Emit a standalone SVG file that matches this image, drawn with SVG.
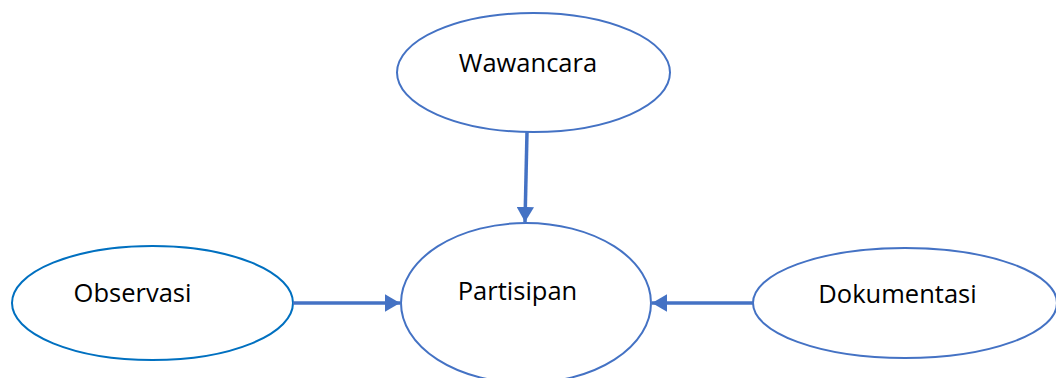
<svg xmlns="http://www.w3.org/2000/svg" width="1056" height="378" viewBox="0 0 1056 378">
<style>
.node ellipse{fill:#fff;stroke:#4472C4;stroke-width:2}
.node text{font-family:"Open Sans","Liberation Sans",Arial,sans-serif;font-size:25.5px;fill:#000;text-anchor:middle}
.conn line{stroke:#4472C4;stroke-width:3.5}
</style>
<defs>
<marker id="ah" markerWidth="5" markerHeight="5" refX="4.3" refY="2.5" orient="auto" markerUnits="strokeWidth">
<path d="M0,0 L4.3,2.5 L0,5 Z" fill="#4472C4"/>
</marker>
</defs>
<rect width="1056" height="378" fill="#fff"/>
<g id="n-wawancara" class="node">
<ellipse cx="533.5" cy="72.5" rx="136.5" ry="59.5"/>
<text x="528" y="72">Wawancara</text>
</g>
<g id="n-observasi" class="node">
<ellipse cx="152.5" cy="303" rx="140.5" ry="57" style="stroke:#0070C0"/>
<text x="132.5" y="302">Observasi</text>
</g>
<g id="n-partisipan" class="node">
<ellipse cx="526" cy="303" rx="125" ry="80"/>
<text x="517.5" y="300">Partisipan</text>
</g>
<g id="n-dokumentasi" class="node">
<ellipse cx="905" cy="303" rx="152" ry="55"/>
<text x="897.5" y="303">Dokumentasi</text>
</g>
<g id="connectors" class="conn">
<line x1="527" y1="132" x2="525" y2="222" marker-end="url(#ah)"/>
<line x1="293" y1="303" x2="400" y2="303" marker-end="url(#ah)"/>
<line x1="753" y1="303" x2="652" y2="303" marker-end="url(#ah)"/>
</g>
</svg>
